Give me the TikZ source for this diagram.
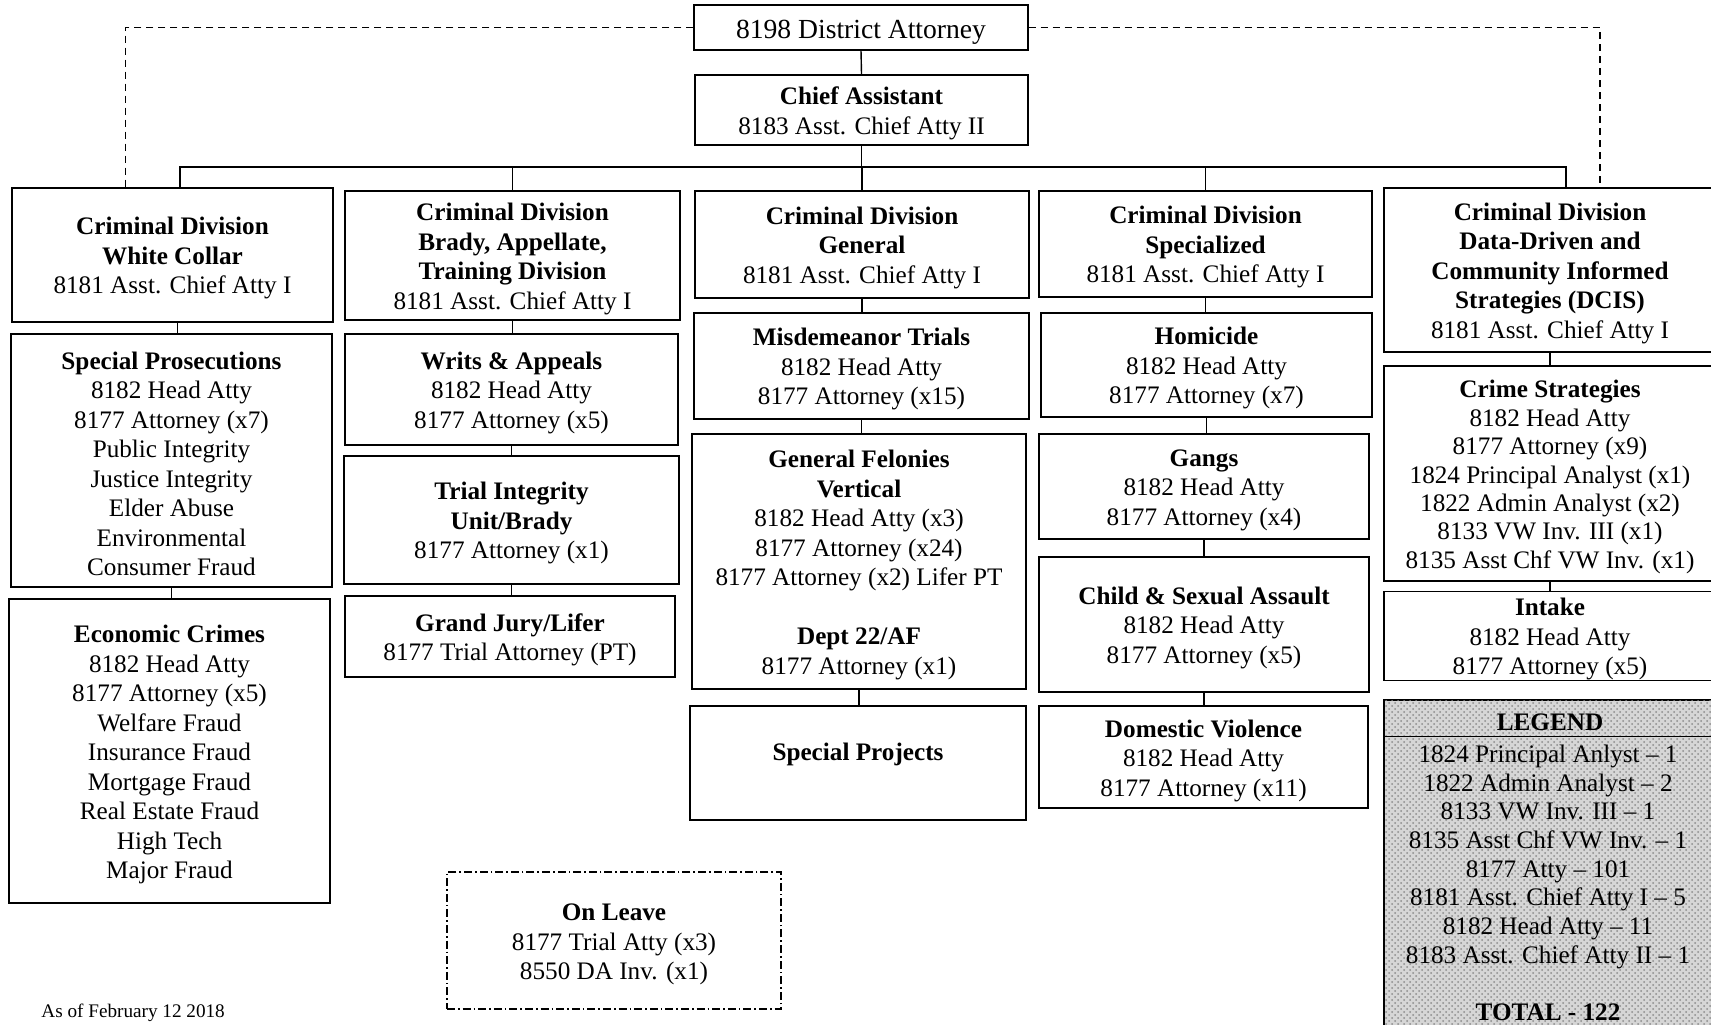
\documentclass[tikz,border=0pt]{standalone}
\usepackage{fontspec}
\setmainfont{Liberation Serif}
\usetikzlibrary{patterns}
\newcommand\Tup{\rule{0pt}{12.2pt}}
\begin{document}
\begin{tikzpicture}[x=0.5pt,y=-0.5pt,
  box/.style={draw, line width=0.7pt, align=center, inner sep=0pt,
    font=\fontsize{12.6}{14.75}\selectfont},
  link/.style={line width=0.7pt},
  dashlink/.style={line width=0.7pt, dash pattern=on 3.6pt off 2.4pt},
  leavebox/.style={box, dash pattern=on 4pt off 1.5pt on 0.8pt off 1.5pt}]
\useasboundingbox (0,0) rectangle (1711,1024);

% top
\node[box, minimum width=167pt, minimum height=22.5pt, font=\fontsize{13.8}{16}\selectfont] (da) at (861,27.5) {\rule{0pt}{14.2pt}8198 District Attorney};
\node[box, minimum width=166.5pt, minimum height=35pt] (chief) at (861.5,110) {\Tup\textbf{Chief Assistant}\\8183 Asst. Chief Atty II};

% division heads
\node[box, minimum width=160.5pt, minimum height=67pt] (wc) at (172.5,255) {\Tup\textbf{Criminal Division}\\\textbf{White Collar}\\8181 Asst. Chief Atty I};
\node[box, minimum width=167.5pt, minimum height=64.5pt] (brady) at (512.5,255.5) {\Tup\textbf{Criminal Division}\\\textbf{Brady, Appellate,}\\\textbf{Training Division}\\8181 Asst. Chief Atty I};
\node[box, minimum width=167pt, minimum height=53.5pt] (gen) at (862,244.5) {\Tup\textbf{Criminal Division}\\\textbf{General}\\8181 Asst. Chief Atty I};
\node[box, minimum width=166.5pt, minimum height=53pt] (spec) at (1205.5,244) {\Tup\textbf{Criminal Division}\\\textbf{Specialized}\\8181 Asst. Chief Atty I};
\node[box, minimum width=166pt, minimum height=82pt] (dcis) at (1550,270) {\Tup\textbf{Criminal Division}\\\textbf{Data-Driven and}\\\textbf{Community Informed}\\\textbf{Strategies (DCIS)}\\8181 Asst. Chief Atty I};

% white collar column
\node[box, minimum width=160.5pt, minimum height=126.5pt] (sp) at (171.5,460.5) {\Tup\textbf{Special Prosecutions}\\8182 Head Atty\\8177 Attorney (x7)\\Public Integrity\\Justice Integrity\\Elder Abuse\\Environmental\\Consumer Fraud};
\node[box, minimum width=160.5pt, minimum height=152pt] (ec) at (169.5,751) {\Tup\textbf{Economic Crimes}\\8182 Head Atty\\8177 Attorney (x5)\\Welfare Fraud\\Insurance Fraud\\Mortgage Fraud\\Real Estate Fraud\\High Tech\\Major Fraud};

% brady column
\node[box, minimum width=166.5pt, minimum height=55.5pt] (wa) at (511.5,389.5) {\Tup\textbf{Writs \& Appeals}\\8182 Head Atty\\8177 Attorney (x5)};
\node[box, minimum width=167.5pt, minimum height=64pt] (ti) at (511.5,520) {\Tup\textbf{Trial Integrity}\\\textbf{Unit/Brady}\\8177 Attorney (x1)};
\node[box, minimum width=165pt, minimum height=40.5pt] (gj) at (510,636.5) {\Tup\textbf{Grand Jury/Lifer}\\8177 Trial Attorney (PT)};

% general column
\node[box, minimum width=167.5pt, minimum height=53pt] (mt) at (861.5,366) {\Tup\textbf{Misdemeanor Trials}\\8182 Head Atty\\8177 Attorney (x15)};
\node[box, minimum width=167pt, minimum height=127.5pt] (gf) at (859,561.5) {\Tup\textbf{General Felonies}\\\textbf{Vertical}\\8182 Head Atty (x3)\\8177 Attorney (x24)\\8177 Attorney (x2) Lifer PT\\[14.75pt]\textbf{Dept 22/AF}\\8177 Attorney (x1)};
\node[box, minimum width=168pt, minimum height=57pt] (spj) at (858,763) {\Tup\textbf{Special Projects}\\\mbox{}};

% specialized column
\node[box, minimum width=165.5pt, minimum height=52pt] (hom) at (1206.5,365) {\Tup\textbf{Homicide}\\8182 Head Atty\\8177 Attorney (x7)};
\node[box, minimum width=165pt, minimum height=52.5pt] (gang) at (1204,486.5) {\Tup\textbf{Gangs}\\8182 Head Atty\\8177 Attorney (x4)};
\node[box, minimum width=165pt, minimum height=67.5pt] (csa) at (1204,624.5) {\Tup\textbf{Child \& Sexual Assault}\\8182 Head Atty\\8177 Attorney (x5)};
\node[box, minimum width=164.5pt, minimum height=51pt] (dv) at (1203.5,757) {\Tup\textbf{Domestic Violence}\\8182 Head Atty\\8177 Attorney (x11)};

% DCIS column
\node[box, minimum width=166pt, minimum height=107.5pt, font=\fontsize{12.6}{14.2}\selectfont] (cs) at (1550,473.5) {\Tup\textbf{Crime Strategies}\\8182 Head Atty\\8177 Attorney (x9)\\1824 Principal Analyst (x1)\\1822 Admin Analyst (x2)\\8133 VW Inv. III (x1)\\8135 Asst Chf VW Inv. (x1)};
\node[box, minimum width=166pt, minimum height=41pt] (intake) at (1550,636) {\Tup\textbf{Intake}\\8182 Head Atty\\8177 Attorney (x5)};

% legend
\node[box, fill=black!16, postaction={pattern=crosshatch dots, pattern color=black!45}, minimum width=166pt, minimum height=165pt] (legend) at (1550,865) {};
\draw[link] ([yshift=-18.5pt]legend.north west) -- ([yshift=-18.5pt]legend.north east);
\node[font=\fontsize{12.6}{14.75}\selectfont\bfseries] (legendtitle) at (1550,722) {LEGEND};
\node[align=center, inner sep=0pt, font=\fontsize{12.6}{14.35}\selectfont] (legendtext) at (1548,883) {1824 Principal Anlyst -- 1\\1822 Admin Analyst -- 2\\8133 VW Inv. III -- 1\\8135 Asst Chf VW Inv. -- 1\\8177 Atty -- 101\\8181 Asst. Chief Atty I -- 5\\8182 Head Atty -- 11\\8183 Asst. Chief Atty II -- 1\\[14.35pt]\textbf{TOTAL - 122}};

% on leave
\node[leavebox, minimum width=167pt, minimum height=68.5pt] (leave) at (614,940.5) {\Tup\textbf{On Leave}\\8177 Trial Atty (x3)\\8550 DA Inv. (x1)};

\node[anchor=west, inner sep=0pt, font=\fontsize{9.6}{11}\selectfont] (asof) at (41,1013) {As of February 12 2018};

% connectors
\coordinate (busL) at (180,167);
\coordinate (busR) at (1566,167);
\draw[link] (da.south) -- (chief.north);
\draw[link] (chief.south) -- (chief.south |- busL);
\draw[link] (wc.north -| busL) -- (busL) -- (busR) -- (busR |- dcis.north);
\draw[link] (brady.north |- busL) -- (brady.north);
\draw[link] (gen.north |- busL) -- (gen.north);
\draw[link] (spec.north |- busL) -- (spec.north);

\draw[dashlink] (da.west) -| ([xshift=-23.5pt]wc.north);
\draw[dashlink] (da.east) -| ([xshift=25pt]dcis.north);

\draw[link] ([xshift=2.5pt]wc.south) -- ([xshift=2.5pt]wc.south |- sp.north);
\draw[link] (sp.south) -- (sp.south |- ec.north);
\draw[link] (brady.south) -- (brady.south |- wa.north);
\draw[link] (wa.south) -- (wa.south |- ti.north);
\draw[link] (ti.south) -- (ti.south |- gj.north);
\draw[link] (gen.south) -- (gen.south |- mt.north);
\draw[link] (mt.south) -- (mt.south |- gf.north);
\draw[link] (gf.south) -- (gf.south |- spj.north);
\draw[link] (spec.south) -- (spec.south |- hom.north);
\draw[link] (hom.south) -- (hom.south |- gang.north);
\draw[link] (gang.south) -- (gang.south |- csa.north);
\draw[link] (csa.south) -- (csa.south |- dv.north);
\draw[link] (dcis.south) -- (dcis.south |- cs.north);
\draw[link] (cs.south) -- (cs.south |- intake.north);
\end{tikzpicture}
\end{document}
